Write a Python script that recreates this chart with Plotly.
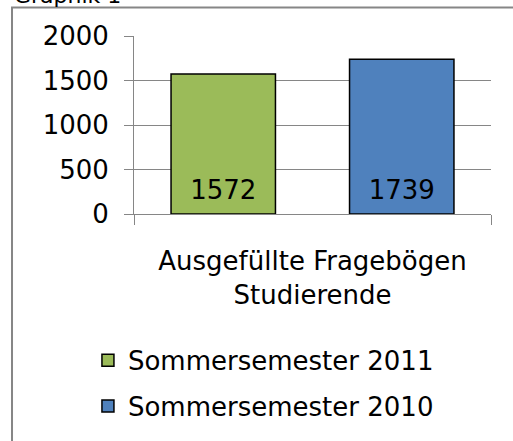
import plotly.graph_objects as go

# Kategorie und Werte
category = ['Ausgefüllte Fragebögen<br>Studierende']
series_names = ['Sommersemester 2011', 'Sommersemester 2010']
values_2011 = [1572]
values_2010 = [1739]
y_ticks = [0, 500, 1000, 1500, 2000]

green = '#9BBB59'
blue = '#4F81BD'
grid = '#868686'
font_name = 'DejaVu Sans'
fs = 26

fig = go.Figure()
fig.add_trace(go.Bar(
    name=series_names[0], x=category, y=values_2011,
    marker=dict(color=green, line=dict(color='black', width=1.5)),
    offsetgroup='a', legendgroup='a',
))
fig.add_trace(go.Bar(
    name=series_names[1], x=category, y=values_2010,
    marker=dict(color=blue, line=dict(color='black', width=1.5)),
    offsetgroup='b', legendgroup='b',
))

# Datenbeschriftungen unten in den Balken
for vals, grp in [(values_2011, 'a'), (values_2010, 'b')]:
    fig.add_trace(go.Scatter(
        x=category, y=[0], mode='markers+text',
        text=[str(v) for v in vals], textposition='top center',
        marker=dict(size=12, color='rgba(0,0,0,0)'),
        textfont=dict(size=fs, color='black', family=font_name),
        offsetgroup=grp, showlegend=False, hoverinfo='skip',
        cliponaxis=False,
    ))

fig.update_layout(
    width=513,
    height=441,
    margin=dict(l=134, r=22, t=36, b=224),
    paper_bgcolor='white',
    plot_bgcolor='white',
    font=dict(family=font_name, size=fs, color='black'),
    barmode='group',
    bargap=0,
    bargroupgap=0.415,
    scattermode='group',
    scattergap=0,
    showlegend=True,
    legend=dict(
        x=-0.129, xanchor='left',
        y=-0.69, yanchor='top',
        orientation='v',
        tracegroupgap=9,
        font=dict(size=fs, family=font_name),
        bgcolor='rgba(0,0,0,0)',
    ),
)

fig.update_yaxes(
    range=[0, 2000],
    tickvals=y_ticks,
    showgrid=True, gridcolor=grid, gridwidth=1,
    showline=True, linecolor=grid, linewidth=1,
    ticks='outside', ticklen=9, tickcolor=grid,
    ticklabelstandoff=10,
    zeroline=False, automargin=False,
)
fig.update_xaxes(
    showline=True, linecolor=grid, linewidth=1,
    ticks='outside', tickson='boundaries', ticklen=10, tickcolor=grid,
    ticklabelstandoff=24,
    showgrid=False, automargin=False,
)

# Rahmen um das Diagramm (rechts und unten abgeschnitten)
fig.add_shape(
    type='rect', xref='paper', yref='paper',
    x0=-0.3417, x1=1.1, y0=-1.35, y1=1.16,
    line=dict(color=grid, width=2), fillcolor='rgba(0,0,0,0)',
    layer='below',
)

fig.add_annotation(
    text='Graphik 1', xref='paper', yref='paper',
    x=-0.3417, xanchor='left', y=1.144, yanchor='bottom',
    showarrow=False, font=dict(size=22, family=font_name, color='black'),
)

fig.write_html(
    'out.html',
    config={'displayModeBar': False},
    post_script="document.body.style.margin='0';document.body.style.overflow='hidden';",
)
